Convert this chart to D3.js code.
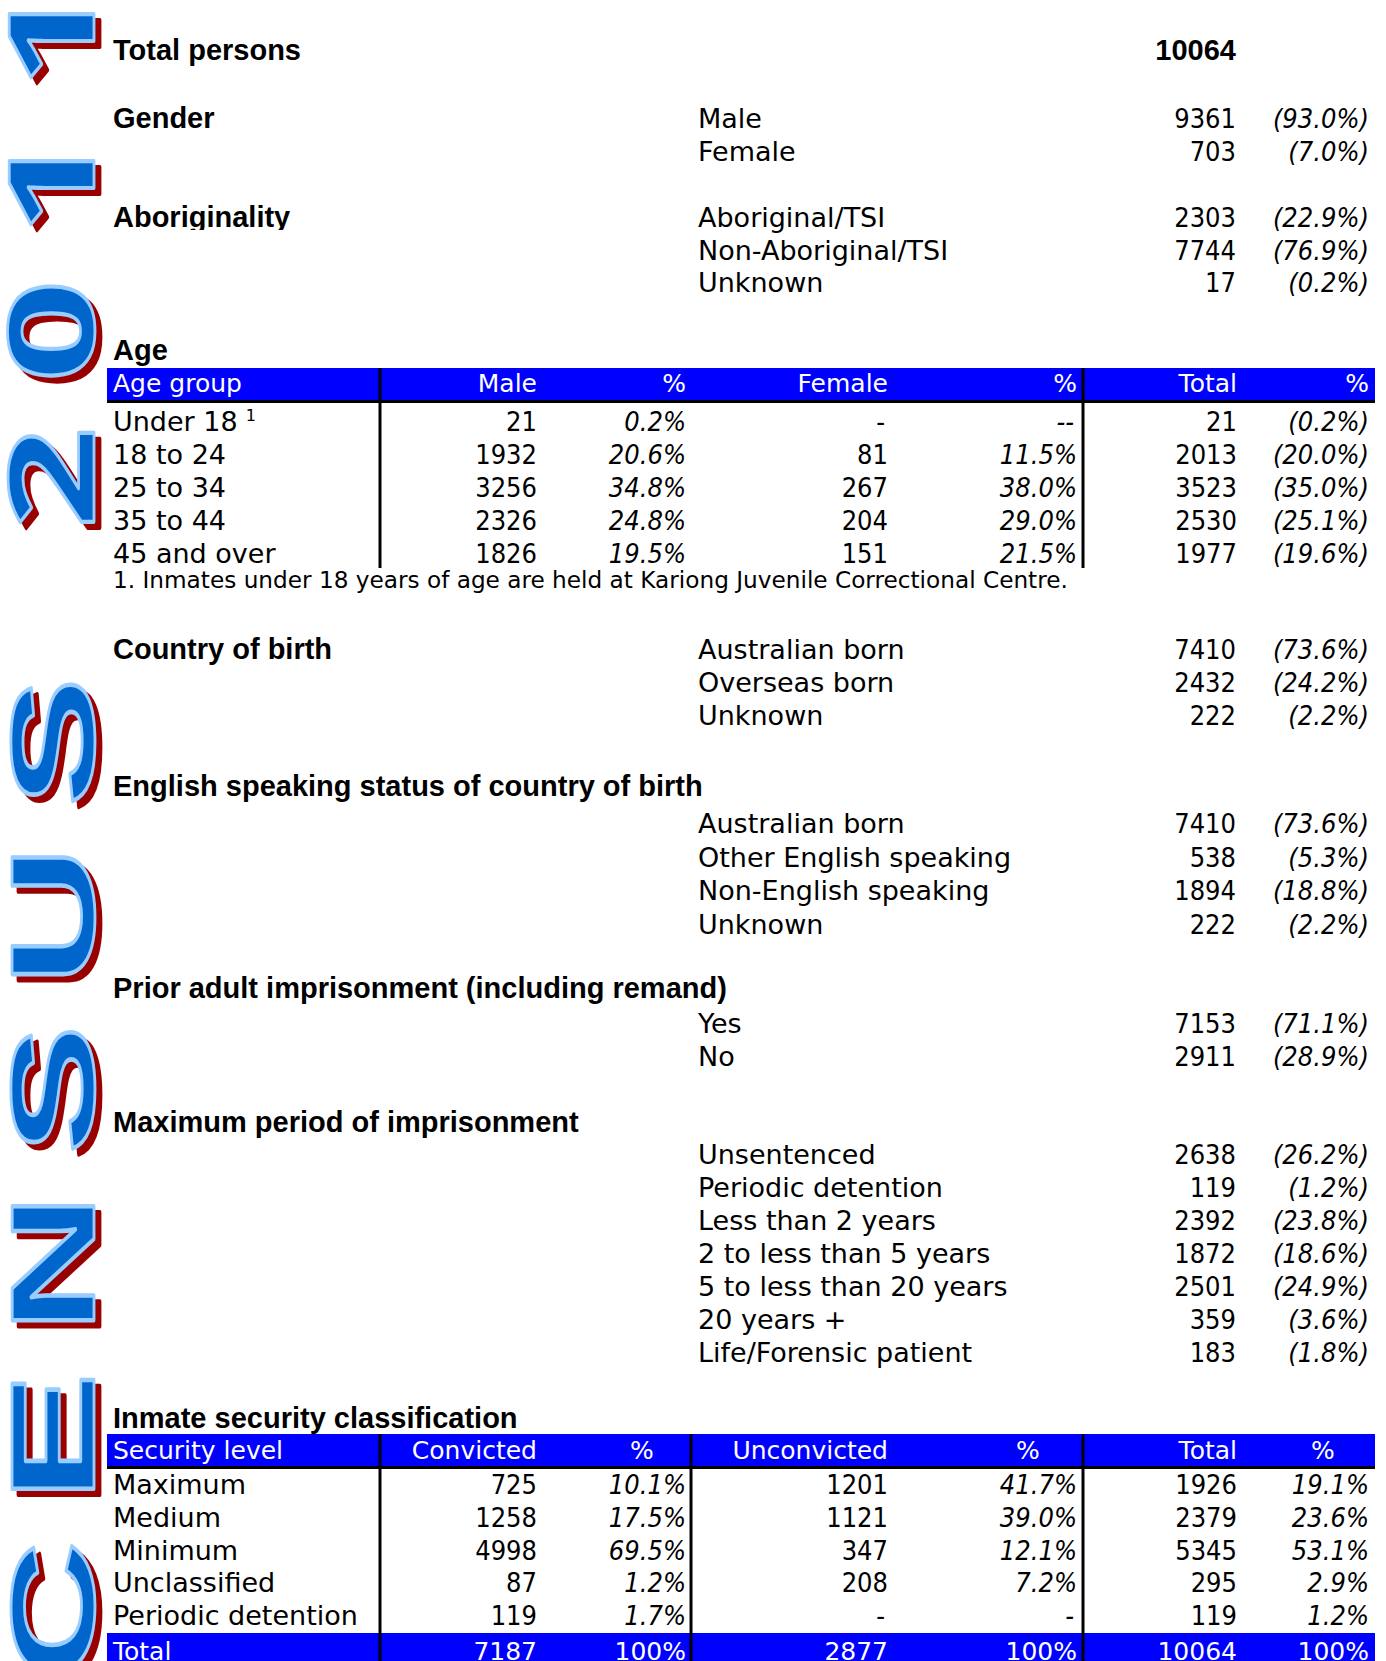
<!DOCTYPE html>
<html>
<head>
<meta charset="utf-8">
<title>Census 2011</title>
<script src="https://d3js.org/d3.v7.min.js"></script>
<style>
body { margin: 0; background: #fff; }
svg { display: block; }
.hd { font-family: "Liberation Sans", Arial, sans-serif; font-weight: bold; font-size: 29px; fill: #000; }
.tx { font-family: "DejaVu Sans", sans-serif; font-size: 27px; fill: #000; }
.it { font-style: italic; }
.th { font-family: "DejaVu Sans", sans-serif; font-size: 25px; fill: #fff; }
</style>
</head>
<body>
<script>
// values
const titleWords = ["CENSUS", "2011"]
const totalPersons = 10064

const headings = ["Total persons", "Gender", "Aboriginality", "Age", "Country of birth",
  "English speaking status of country of birth", "Prior adult imprisonment (including remand)",
  "Maximum period of imprisonment", "Inmate security classification"]

const genderLabels = ["Male", "Female"]
const genderCounts = [9361, 703]
const genderPct = [93.0, 7.0]

const aborigLabels = ["Aboriginal/TSI", "Non-Aboriginal/TSI", "Unknown"]
const aborigCounts = [2303, 7744, 17]
const aborigPct = [22.9, 76.9, 0.2]

const countryLabels = ["Australian born", "Overseas born", "Unknown"]
const countryCounts = [7410, 2432, 222]
const countryPct = [73.6, 24.2, 2.2]

const englishLabels = ["Australian born", "Other English speaking", "Non-English speaking", "Unknown"]
const englishCounts = [7410, 538, 1894, 222]
const englishPct = [73.6, 5.3, 18.8, 2.2]

const priorLabels = ["Yes", "No"]
const priorCounts = [7153, 2911]
const priorPct = [71.1, 28.9]

const periodLabels = ["Unsentenced", "Periodic detention", "Less than 2 years", "2 to less than 5 years",
  "5 to less than 20 years", "20 years +", "Life/Forensic patient"]
const periodCounts = [2638, 119, 2392, 1872, 2501, 359, 183]
const periodPct = [26.2, 1.2, 23.8, 18.6, 24.9, 3.6, 1.8]

const ageGroups = ["Under 18", "18 to 24", "25 to 34", "35 to 44", "45 and over"]
const ageMale = [21, 1932, 3256, 2326, 1826]
const ageMalePct = [0.2, 20.6, 34.8, 24.8, 19.5]
const ageFemale = [null, 81, 267, 204, 151]
const ageFemalePct = [null, 11.5, 38.0, 29.0, 21.5]
const ageTotal = [21, 2013, 3523, 2530, 1977]
const ageTotalPct = [0.2, 20.0, 35.0, 25.1, 19.6]
const ageFootnote = "1. Inmates under 18 years of age are held at Kariong Juvenile Correctional Centre."

const securityLevels = ["Maximum", "Medium", "Minimum", "Unclassified", "Periodic detention"]
const convicted = [725, 1258, 4998, 87, 119]
const convictedPct = [10.1, 17.5, 69.5, 1.2, 1.7]
const unconvicted = [1201, 1121, 347, 208, null]
const unconvictedPct = [41.7, 39.0, 12.1, 7.2, null]
const securityTotal = [1926, 2379, 5345, 295, 119]
const securityTotalPct = [19.1, 23.6, 53.1, 2.9, 1.2]
const securitySums = [7187, 2877, 10064]

// layout
const W = 1386, H = 1661
const labelX = 113, itemX = 698, countX = 1236, pctX = 1369
const barX0 = 107, barX1 = 1375
const f1 = d3.format(".1f")

const svg = d3.select("body").append("svg")
  .attr("width", W)
  .attr("height", H)

// vertical word-art title, reads bottom to top
// each word has its own start, face and stretch along the text
const titleFit = [
  {y: 1681, sx: 1.63, ls: 24, font: "Liberation Sans, Arial, sans-serif"},
  {y: 529, sx: 1.5, ls: 30, font: "Noto Sans, Liberation Sans, sans-serif"}
]
const titleLayers = [
  {dx: 6, dy: 6, fill: "#990000", stroke: "#990000"},
  {dx: 0, dy: 0, fill: "#0066cc", stroke: "#99ccff"}
]
titleLayers.forEach(l => {
  svg.append("g").selectAll("text")
    .data(titleWords)
    .join("text")
    .attr("transform", (d, i) => `translate(${94 + l.dx},${titleFit[i].y + l.dy}) rotate(-90) scale(${titleFit[i].sx},1)`)
    .attr("font-family", (d, i) => titleFit[i].font)
    .attr("font-weight", "bold")
    .attr("font-size", 119)
    .attr("letter-spacing", (d, i) => titleFit[i].ls)
    .attr("fill", l.fill)
    .attr("stroke", l.stroke)
    .attr("stroke-width", 2.8)
    .attr("stroke-linejoin", "round")
    .text(d => d)
})

// headings
const headingY = [60, 128, 227, 360, 659, 796, 998, 1132, 1428]
svg.append("clipPath").attr("id", "cut")
  .append("rect").attr("x", 0).attr("y", 190).attr("width", 600).attr("height", 40)

svg.selectAll("text.hd")
  .data(headings)
  .join("text")
  .attr("class", "hd")
  .attr("x", labelX)
  .attr("y", (d, i) => headingY[i])
  .attr("clip-path", d => d == "Aboriginality" ? "url(#cut)" : null)
  .text(d => d)

svg.append("text")
  .attr("class", "hd")
  .attr("x", countX)
  .attr("y", 60)
  .attr("text-anchor", "end")
  .text(totalPersons)

// numbers are set a little narrower, like the original face
function num(g, x, y, str, cls) {
  return g.append("text")
    .attr("class", cls)
    .attr("text-anchor", "end")
    .attr("transform", `translate(${x},${y}) scale(0.9,1)`)
    .text(str)
}

// simple blocks: label, count, (pct)
const blocks = [
  {labels: genderLabels, counts: genderCounts, pct: genderPct, y0: 128, step: 33},
  {labels: aborigLabels, counts: aborigCounts, pct: aborigPct, y0: 227, step: 32.5},
  {labels: countryLabels, counts: countryCounts, pct: countryPct, y0: 659, step: 33},
  {labels: englishLabels, counts: englishCounts, pct: englishPct, y0: 833, step: 33.6},
  {labels: priorLabels, counts: priorCounts, pct: priorPct, y0: 1033, step: 33},
  {labels: periodLabels, counts: periodCounts, pct: periodPct, y0: 1164, step: 33}
]

blocks.forEach(b => {
  const y = d3.scaleLinear().domain([0, 1]).range([b.y0, b.y0 + b.step])
  const g = svg.append("g")
  b.labels.forEach((lab, i) => {
    g.append("text").attr("class", "tx").attr("x", itemX).attr("y", y(i)).text(lab)
    num(g, countX, y(i), b.counts[i], "tx")
    num(g, pctX, y(i), "(" + f1(b.pct[i]) + "%)", "tx it")
  })
})

// tables
function drawTable(t) {
  const g = svg.append("g")
  const y = d3.scaleLinear().domain([0, 1]).range([t.y0, t.y0 + t.step])

  g.append("rect").attr("x", barX0).attr("y", t.top)
    .attr("width", barX1 - barX0).attr("height", t.barBottom - t.top).attr("fill", "#0000ff")
  g.append("rect").attr("x", barX0).attr("y", t.barBottom)
    .attr("width", barX1 - barX0).attr("height", 3).attr("fill", "#000")

  if (t.sums) {
    g.append("rect").attr("x", barX0).attr("y", t.sumTop)
      .attr("width", barX1 - barX0).attr("height", H - t.sumTop).attr("fill", "#0000ff")
  }

  g.selectAll("line.v")
    .data(t.vlines)
    .join("line")
    .attr("x1", d => d).attr("x2", d => d)
    .attr("y1", t.top).attr("y2", t.bottom)
    .attr("stroke", "#000").attr("stroke-width", 3)

  // header row
  g.append("text").attr("class", "th").attr("x", labelX).attr("y", t.headY).text(t.firstHead)
  t.cols.forEach(c => {
    g.append("text").attr("class", "th").attr("x", c.countX).attr("y", t.headY)
      .attr("text-anchor", "end").text(c.name)
    g.append("text").attr("class", "th").attr("x", t.pctHeadCenter ? c.pctHeadX : c.pctX)
      .attr("y", t.headY).attr("text-anchor", t.pctHeadCenter ? "middle" : "end").text("%")
  })

  // body rows
  const labs = []
  t.rows.forEach((lab, i) => {
    labs.push(g.append("text").attr("class", "tx").attr("x", labelX).attr("y", y(i)).text(lab))
    t.cols.forEach(c => {
      const v = c.counts[i], p = c.pct[i]
      num(g, c.countX - (v == null ? 3 : 0), y(i), v == null ? "-" : v, "tx")
      const ps = p == null ? t.pctDash : (c.paren ? "(" + f1(p) + "%)" : f1(p) + "%")
      num(g, c.pctX - (p == null ? 3 : 0), y(i), ps, "tx it")
    })
  })

  // totals row
  if (t.sums) {
    g.append("text").attr("class", "th").attr("x", labelX).attr("y", t.sumY).text("Total")
    t.cols.forEach((c, j) => {
      g.append("text").attr("class", "th").attr("x", c.countX).attr("y", t.sumY)
        .attr("text-anchor", "end").text(t.sums[j])
      g.append("text").attr("class", "th").attr("x", c.pctX).attr("y", t.sumY)
        .attr("text-anchor", "end").text("100%")
    })
  }
  return labs
}

const ageLabs = drawTable({
  top: 368, barBottom: 400, headY: 392, bottom: 568,
  y0: 431, step: 33, vlines: [380, 1083],
  firstHead: "Age group", rows: ageGroups, pctDash: "--",
  cols: [
    {name: "Male", counts: ageMale, pct: ageMalePct, countX: 537, pctX: 686},
    {name: "Female", counts: ageFemale, pct: ageFemalePct, countX: 888, pctX: 1077},
    {name: "Total", counts: ageTotal, pct: ageTotalPct, countX: 1237, pctX: 1369, paren: true}
  ]
})

// footnote marker sits just after "Under 18", level with its cap top
const under = ageLabs[0].node()
svg.append("text").attr("class", "tx")
  .attr("x", labelX + under.getComputedTextLength() + 8)
  .attr("y", 421)
  .style("font-size", "16px")
  .text("1")
svg.append("text").attr("class", "tx").attr("x", labelX).attr("y", 588)
  .style("font-size", "23.2px").text(ageFootnote)

drawTable({
  top: 1434, barBottom: 1466, headY: 1459, bottom: H,
  y0: 1494, step: 32.8, vlines: [380, 691, 1083],
  firstHead: "Security level", rows: securityLevels, pctDash: "-",
  pctHeadCenter: true,
  sums: securitySums, sumTop: 1633, sumY: 1660,
  cols: [
    {name: "Convicted", counts: convicted, pct: convictedPct, countX: 537, pctX: 686, pctHeadX: 642},
    {name: "Unconvicted", counts: unconvicted, pct: unconvictedPct, countX: 888, pctX: 1077, pctHeadX: 1028},
    {name: "Total", counts: securityTotal, pct: securityTotalPct, countX: 1237, pctX: 1369, pctHeadX: 1323}
  ]
})
</script>
</body>
</html>
